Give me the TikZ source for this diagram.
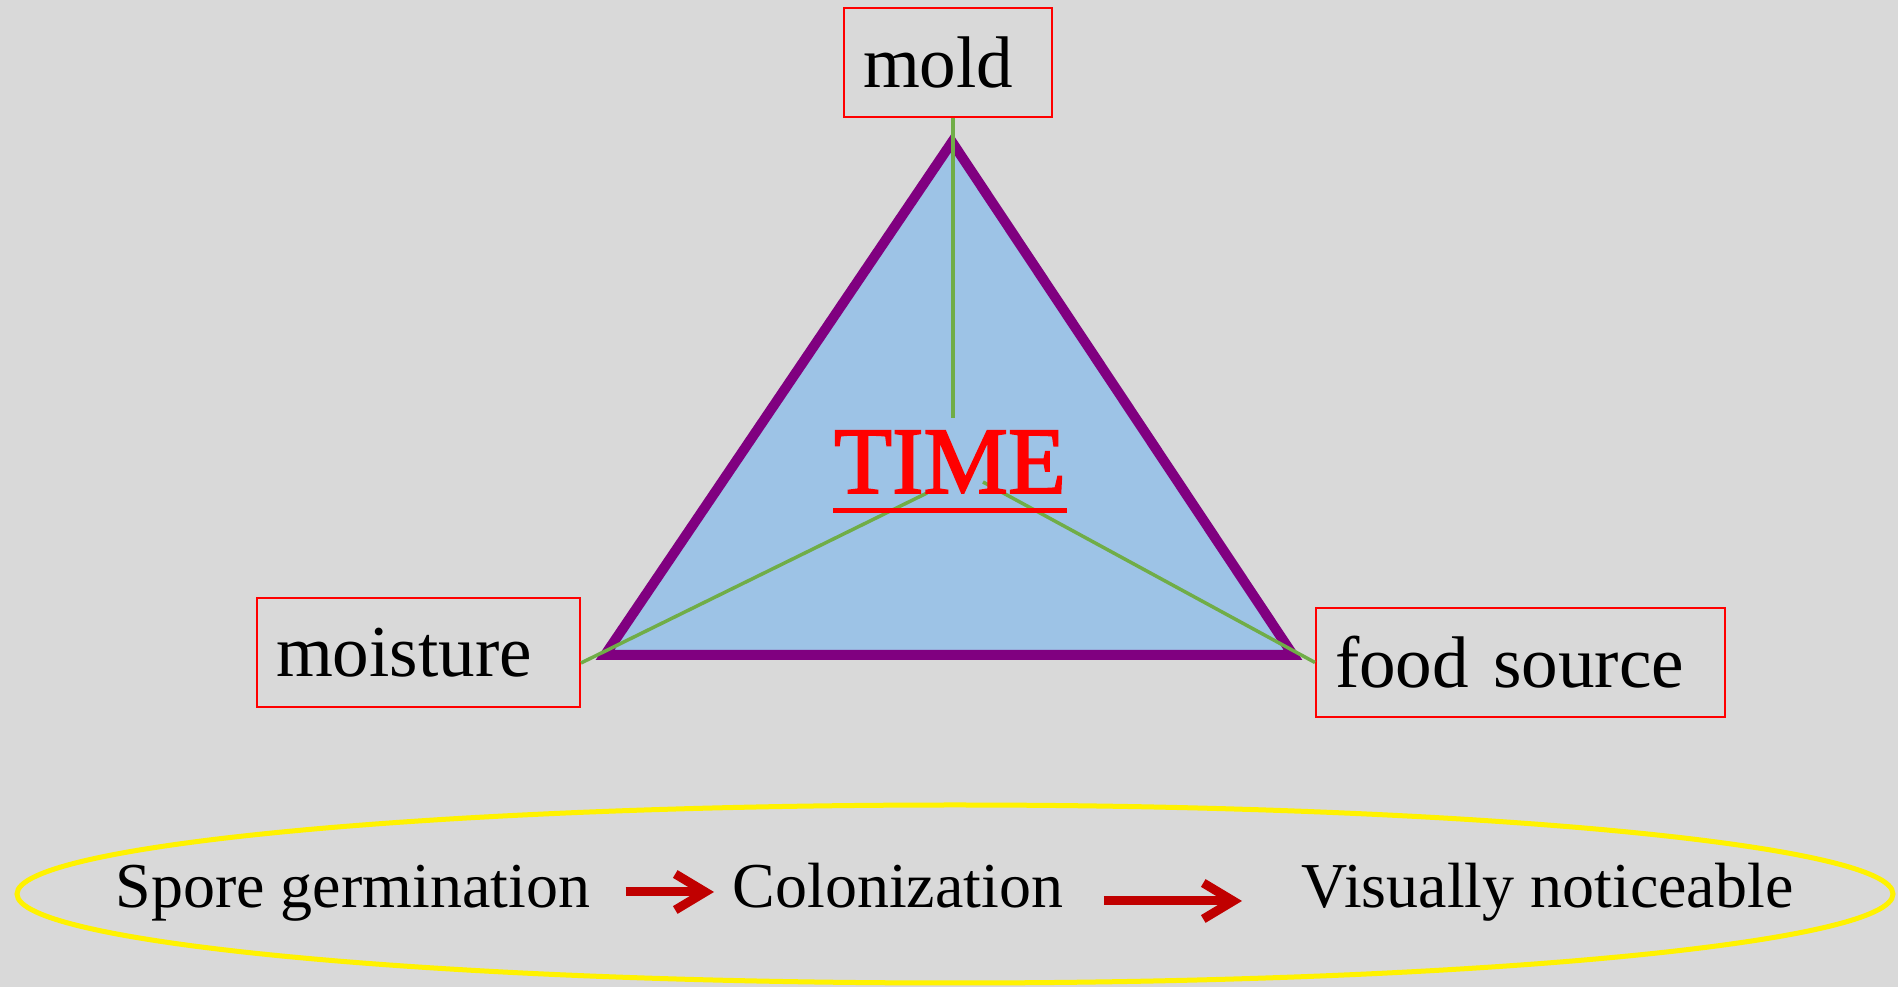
\documentclass[tikz,border=0pt]{standalone}
\usepackage{fontspec}
\setmainfont{Liberation Serif}
\newfontfamily\timefont[FakeBold=2]{Liberation Serif}
\usepackage{tikz}
\usetikzlibrary{arrows.meta,positioning,calc}
\definecolor{slidegray}{RGB}{217,217,217}
\definecolor{triblue}{RGB}{157,195,230}
\definecolor{tripurple}{RGB}{128,0,128}
\definecolor{spokegreen}{RGB}{112,173,71}
\definecolor{arrowred}{RGB}{192,0,0}
\tikzset{
  labelbox/.style={rectangle, draw=red, line width=0.02cm, inner xsep=0.19cm,
                   inner ysep=0pt, minimum height=1.09cm, align=left,
                   font=\fontsize{20.8pt}{25pt}\selectfont},
  spoke/.style={spokegreen, line width=0.035cm},
  stage/.style={inner sep=0pt, anchor=base west,
                font=\fontsize{18.2pt}{22pt}\selectfont},
  flowarrow/.style={arrowred, line width=0.09cm,
                    -{Straight Barb[length=0.3cm,width=0.36cm]}},
}

\begin{document}
\begin{tikzpicture}
  \useasboundingbox (0,0) rectangle (18.98,9.87);
  \fill[slidegray] (0,0) rectangle (18.98,9.87);

  % triangle
  \coordinate (apex) at (9.52,8.45);
  \coordinate (baseL) at (6.05,3.32);
  \coordinate (baseR) at (12.93,3.32);
  \filldraw[fill=triblue, draw=tripurple, line width=0.1cm] (apex) -- (baseL) -- (baseR) -- cycle;

  % factor boxes
  \node[labelbox, text width=1.70cm] (mold) at (9.48,9.245) {mold};
  \node[labelbox, text width=2.85cm] (moisture) at (4.185,3.345) {moisture};
  \node[labelbox, text width=3.71cm] (food) at (15.205,3.245) {food source};

  % spokes
  \coordinate (topend) at (9.53,5.69);
  \coordinate (leftend) at (9.27,4.94);
  \coordinate (rightend) at (9.83,5.05);
  \draw[spoke] (mold.south -| topend) -- (topend);
  \draw[spoke] ([yshift=-0.105cm]moisture.east) -- (leftend);
  \draw[spoke] (food.west) -- (rightend);

  % TIME
  \node[inner sep=0pt, anchor=base, text=red, font=\fontsize{27pt}{32pt}\timefont] (time) at (9.50,4.94) {TIME};
  \draw[red, line width=0.05cm] ([yshift=-0.18cm]time.base west) -- ([yshift=-0.18cm]time.base east);

  % stages
  \draw[yellow, line width=0.05cm] (9.55,0.93) ellipse [x radius=9.38, y radius=0.89];
  \node[stage] (spore) at (1.15,0.79) {Spore germination};
  \node[stage] (colon) at (7.32,0.79) {Colonization};
  \node[stage] (visual) at (13.01,0.79) {Visually noticeable};
  \draw[flowarrow] ([xshift=0.35cm]spore.east |- 0,0.95) -- ([xshift=-0.18cm]colon.west |- 0,0.95);
  \draw[flowarrow] ([xshift=0.40cm]colon.east |- 0,0.86) -- ([xshift=-0.59cm]visual.west |- 0,0.86);
\end{tikzpicture}
\end{document}
